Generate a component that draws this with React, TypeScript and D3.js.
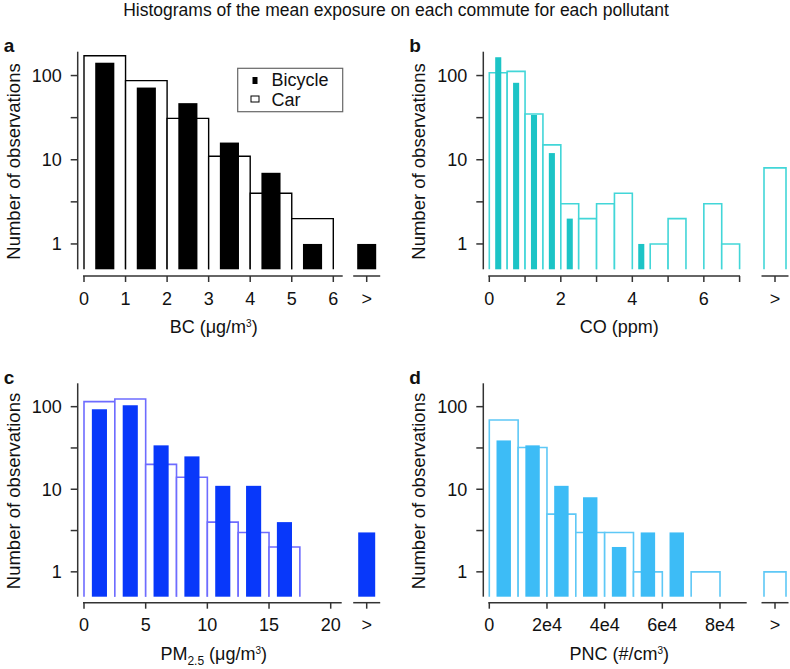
import React from "react";
import * as d3 from "d3";

// ---------- data ----------
const bcEdges = [0, 1, 2, 3, 4, 5, 6];
const bcCar = [172, 87, 31, 11, 4, 2];
const bcBike = [142, 72, 47, 16, 7, 1];
const bcCarOver = 0;
const bcBikeOver = 1;
const bcTicks = [0, 1, 2, 3, 4, 5, 6];
const bcTickLabels = ["0", "1", "2", "3", "4", "5", "6"];

const coEdges = [0, 0.5, 1, 1.5, 2, 2.5, 3, 3.5, 4, 4.5, 5, 5.5, 6, 6.5, 7];
const coCar = [108, 112, 35, 15, 3, 2, 3, 4, 0, 1, 2, 0, 3, 1];
const coBike = [165, 82, 34, 12, 2, 0, 0, 0, 1, 0, 0, 0, 0, 0];
const coCarOver = 8;
const coBikeOver = 0;
const coTicks = [0, 1, 2, 3, 4, 5, 6, 7];
const coTickLabels = ["0", "", "2", "", "4", "", "6", ""];

const pmEdges = [0, 2.5, 5, 7.5, 10, 12.5, 15, 17.5];
const pmCar = [115, 124, 20, 14, 4, 3, 2];
const pmBike = [93, 104, 34, 25, 11, 11, 4];
const pmCarOver = 0;
const pmBikeOver = 3;
const pmTicks = [0, 5, 10, 15, 20];
const pmTickLabels = ["0", "5", "10", "15", "20"];

const pncEdges = [0, 1e4, 2e4, 3e4, 4e4, 5e4, 6e4, 7e4, 8e4, 9e4];
const pncCar = [69, 32, 5, 3, 3, 1, 0, 1, 0];
const pncBike = [39, 34, 11, 8, 2, 3, 3, 0, 0];
const pncCarOver = 1;
const pncBikeOver = 0;
const pncTicks = [0, 2e4, 4e4, 6e4, 8e4];
const pncTickLabels = ["0", "2e4", "4e4", "6e4", "8e4"];

const yTicks = [1, Math.sqrt(10), 10, Math.sqrt(1000), 100];
const yTickLabels = ["1", "", "10", "", "100"];

const FONT = "'Liberation Sans', Arial, Helvetica, sans-serif";
const AXIS = "#333";
const TICK_FS = 18;

type PanelProps = {
  letter: string;
  ox: number;
  top: number;
  bottom: number;
  axisY: number;
  x0: number;
  x1: number;
  dom: [number, number];
  axisEnd: number;
  overX: number;
  edges: number[];
  car: number[];
  bike: number[];
  carOver: number;
  bikeOver: number;
  ticks: number[];
  tickLabels: string[];
  fill: string;
  outline: string;
  bikeFrac: number;
  overBikeW: number;
  xlabel: React.ReactNode;
  legend?: boolean;
};

function Panel(p: PanelProps) {
  const x = d3.scaleLinear().domain(p.dom).range([p.x0, p.x1]);
  const y = d3.scaleLog().domain([0.5, 200]).range([p.bottom, p.top - 1.5]);
  const sw = p.fill === "#000" ? 1.4 : 1.6;
  const carPaths = p.car.map((v, i) => {
    if (v <= 0) return null;
    const a = x(p.edges[i]);
    const b = x(p.edges[i + 1]);
    return (
      <path
        key={"c" + i}
        d={`M${a},${p.bottom}V${y(v)}H${b}V${p.bottom}`}
        fill="#fff"
        stroke={p.outline}
        strokeWidth={sw}
      />
    );
  });
  const bikeRects = p.bike.map((v, i) => {
    if (v <= 0) return null;
    const a = x(p.edges[i]);
    const b = x(p.edges[i + 1]);
    const w = (b - a) * p.bikeFrac;
    const c = (a + b) / 2;
    return (
      <rect
        key={"b" + i}
        x={c - w / 2}
        y={y(v)}
        width={w}
        height={p.bottom - y(v)}
        fill={p.fill}
      />
    );
  });
  const overCarW = 22;
  return (
    <g fontFamily={FONT}>
      <text x={p.ox - 74} y={p.top + 0.5} fontSize={19} fontWeight="bold" fill="#111">
        {p.letter}
      </text>
      {carPaths}
      {p.carOver > 0 && (
        <path
          d={`M${p.overX - overCarW / 2},${p.bottom}V${y(p.carOver)}H${p.overX + overCarW / 2}V${p.bottom}`}
          fill="#fff"
          stroke={p.outline}
          strokeWidth={sw}
        />
      )}
      {bikeRects}
      {p.bikeOver > 0 && (
        <rect
          x={p.overX - p.overBikeW / 2}
          y={y(p.bikeOver)}
          width={p.overBikeW}
          height={p.bottom - y(p.bikeOver)}
          fill={p.fill}
        />
      )}
      <line x1={p.ox} x2={p.ox} y1={p.top} y2={p.bottom} stroke={AXIS} strokeWidth={1.5} />
      {yTicks.map((t, i) => (
        <g key={"yt" + i}>
          <line x1={p.ox - 7} x2={p.ox} y1={y(t)} y2={y(t)} stroke={AXIS} strokeWidth={1.5} />
          {yTickLabels[i] && (
            <text
              x={p.ox - 16}
              y={y(t)}
              dy="0.36em"
              textAnchor="end"
              fontSize={TICK_FS}
              fill="#111"
            >
              {yTickLabels[i]}
            </text>
          )}
        </g>
      ))}
      <text
        transform={`translate(${p.ox - 58},${(p.top + p.bottom) / 2 + 1}) rotate(-90)`}
        textAnchor="middle"
        fontSize={18.5}
        fill="#111"
      >
        Number of observations
      </text>
      <line x1={p.x0 - 1} x2={p.axisEnd} y1={p.axisY} y2={p.axisY} stroke={AXIS} strokeWidth={1.5} />
      {p.ticks.map((t, i) => (
        <g key={"xt" + i}>
          <line x1={x(t)} x2={x(t)} y1={p.axisY} y2={p.axisY + 6} stroke={AXIS} strokeWidth={1.5} />
          {p.tickLabels[i] && (
            <text x={x(t)} y={p.axisY + 28.5} textAnchor="middle" fontSize={TICK_FS} fill="#111">
              {p.tickLabels[i]}
            </text>
          )}
        </g>
      ))}
      <line x1={p.overX - 13.5} x2={p.overX + 13.5} y1={p.axisY} y2={p.axisY} stroke={AXIS} strokeWidth={1.5} />
      <line x1={p.overX} x2={p.overX} y1={p.axisY} y2={p.axisY + 6} stroke={AXIS} strokeWidth={1.5} />
      <text x={p.overX} y={p.axisY + 28.5} textAnchor="middle" fontSize={TICK_FS} fill="#111">
        {">"}
      </text>
      <text x={p.ox + 136} y={p.axisY + 57} textAnchor="middle" fontSize={18} fill="#111">
        {p.xlabel}
      </text>
      {p.legend && (
        <g>
          <rect x={237.7} y={68.3} width={105} height={43.4} fill="#fff" stroke="#666" strokeWidth={1.2} />
          <rect x={252.5} y={77} width={5} height={7} fill="#000" />
          <rect x={251} y={96} width={8} height={6} fill="#fff" stroke="#000" strokeWidth={1} />
          <text x={271.5} y={86} fontSize={18} fill="#111">Bicycle</text>
          <text x={271.5} y={105.5} fontSize={18} fill="#111">Car</text>
        </g>
      )}
    </g>
  );
}

export default function App() {
  const topRow = { top: 51.7, bottom: 269.3, axisY: 276 };
  const botRow = { top: 383.3, bottom: 596.7, axisY: 602.7 };
  return (
    <svg
      width={790}
      height={669}
      style={{ position: "absolute", left: 0, top: 0, background: "#fff" }}
    >
      <rect width={790} height={669} fill="#fff" />
      <text
        x={396}
        y={16}
        textAnchor="middle"
        fontFamily={FONT}
        fontSize={17.5}
        fill="#111"
      >
        Histograms of the mean exposure on each commute for each pollutant
      </text>
      <Panel
        letter="a"
        ox={77.7}
        {...topRow}
        x0={84}
        x1={333.3}
        dom={[0, 6]}
        axisEnd={342.7}
        overX={366.7}
        edges={bcEdges}
        car={bcCar}
        bike={bcBike}
        carOver={bcCarOver}
        bikeOver={bcBikeOver}
        ticks={bcTicks}
        tickLabels={bcTickLabels}
        fill="#000"
        outline="#000"
        bikeFrac={0.46}
        overBikeW={19}
        xlabel={
          <>
            BC (μg/m<tspan dy={-6} fontSize={10}>3</tspan>
            <tspan dy={6}>)</tspan>
          </>
        }
        legend
      />
      <Panel
        letter="b"
        ox={483.3}
        {...topRow}
        x0={489.3}
        x1={739.6}
        dom={[0, 7]}
        axisEnd={740}
        overX={775}
        edges={coEdges}
        car={coCar}
        bike={coBike}
        carOver={coCarOver}
        bikeOver={coBikeOver}
        ticks={coTicks}
        tickLabels={coTickLabels}
        fill="#1cc4c6"
        outline="#42d6d8"
        bikeFrac={0.34}
        overBikeW={6}
        xlabel={<>CO (ppm)</>}
      />
      <Panel
        letter="c"
        ox={77.7}
        {...botRow}
        x0={84}
        x1={330.7}
        dom={[0, 20]}
        axisEnd={341.7}
        overX={366.7}
        edges={pmEdges}
        car={pmCar}
        bike={pmBike}
        carOver={pmCarOver}
        bikeOver={pmBikeOver}
        ticks={pmTicks}
        tickLabels={pmTickLabels}
        fill="#0838fa"
        outline="#6e6cff"
        bikeFrac={0.49}
        overBikeW={17}
        xlabel={
          <>
            PM<tspan dy={5} fontSize={12}>2.5</tspan>
            <tspan dy={-5}> (μg/m</tspan>
            <tspan dy={-6} fontSize={10}>3</tspan>
            <tspan dy={6}>)</tspan>
          </>
        }
      />
      <Panel
        letter="d"
        ox={483.3}
        {...botRow}
        x0={489.3}
        x1={720}
        dom={[0, 8e4]}
        axisEnd={746.7}
        overX={775}
        edges={pncEdges}
        car={pncCar}
        bike={pncBike}
        carOver={pncCarOver}
        bikeOver={pncBikeOver}
        ticks={pncTicks}
        tickLabels={pncTickLabels}
        fill="#3dbcf6"
        outline="#5ec8f6"
        bikeFrac={0.5}
        overBikeW={14}
        xlabel={
          <>
            PNC (#/cm<tspan dy={-6} fontSize={10}>3</tspan>
            <tspan dy={6}>)</tspan>
          </>
        }
      />
    </svg>
  );
}
